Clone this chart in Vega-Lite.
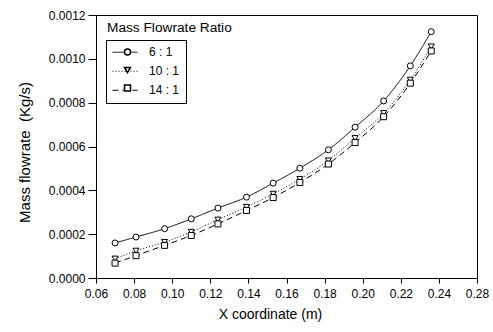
{
  "$schema": "https://vega.github.io/schema/vega-lite/v6.json",
  "width": 381,
  "height": 263,
  "autosize": {"type": "none"},
  "padding": {"left": 96, "top": 15, "right": 16, "bottom": 54},
  "background": "white",
  "config": {
    "font": "Liberation Sans",
    "view": {"stroke": "black", "strokeWidth": 1},
    "axis": {
      "grid": false,
      "domainColor": "black",
      "tickColor": "black",
      "labelColor": "black",
      "titleColor": "black",
      "labelFontSize": 12,
      "titleFontSize": 14,
      "titleFontWeight": "normal",
      "labelFlush": false,
      "labelOverlap": false
    }
  },
  "title": {
    "text": "Mass Flowrate Ratio",
    "anchor": "start",
    "frame": "group",
    "fontSize": 13.7,
    "fontWeight": "normal",
    "color": "black",
    "offset": 0,
    "dx": 11,
    "dy": 26
  },
  "data": {
    "values": [
      {"x": 0.070, "flow": 0.000160, "ratio": "6 : 1"},
      {"x": 0.081, "flow": 0.000187, "ratio": "6 : 1"},
      {"x": 0.096, "flow": 0.000225, "ratio": "6 : 1"},
      {"x": 0.110, "flow": 0.000270, "ratio": "6 : 1"},
      {"x": 0.124, "flow": 0.000319, "ratio": "6 : 1"},
      {"x": 0.139, "flow": 0.000369, "ratio": "6 : 1"},
      {"x": 0.153, "flow": 0.000433, "ratio": "6 : 1"},
      {"x": 0.167, "flow": 0.000501, "ratio": "6 : 1"},
      {"x": 0.182, "flow": 0.000585, "ratio": "6 : 1"},
      {"x": 0.196, "flow": 0.000688, "ratio": "6 : 1"},
      {"x": 0.211, "flow": 0.000808, "ratio": "6 : 1"},
      {"x": 0.225, "flow": 0.000968, "ratio": "6 : 1"},
      {"x": 0.236, "flow": 0.001124, "ratio": "6 : 1"},
      {"x": 0.070, "flow": 0.000088, "ratio": "10 : 1"},
      {"x": 0.081, "flow": 0.000124, "ratio": "10 : 1"},
      {"x": 0.096, "flow": 0.000164, "ratio": "10 : 1"},
      {"x": 0.110, "flow": 0.000210, "ratio": "10 : 1"},
      {"x": 0.124, "flow": 0.000266, "ratio": "10 : 1"},
      {"x": 0.139, "flow": 0.000324, "ratio": "10 : 1"},
      {"x": 0.153, "flow": 0.000384, "ratio": "10 : 1"},
      {"x": 0.167, "flow": 0.000451, "ratio": "10 : 1"},
      {"x": 0.182, "flow": 0.000536, "ratio": "10 : 1"},
      {"x": 0.196, "flow": 0.000638, "ratio": "10 : 1"},
      {"x": 0.211, "flow": 0.000752, "ratio": "10 : 1"},
      {"x": 0.225, "flow": 0.000904, "ratio": "10 : 1"},
      {"x": 0.236, "flow": 0.001056, "ratio": "10 : 1"},
      {"x": 0.070, "flow": 0.000068, "ratio": "14 : 1"},
      {"x": 0.081, "flow": 0.000102, "ratio": "14 : 1"},
      {"x": 0.096, "flow": 0.000149, "ratio": "14 : 1"},
      {"x": 0.110, "flow": 0.000194, "ratio": "14 : 1"},
      {"x": 0.124, "flow": 0.000247, "ratio": "14 : 1"},
      {"x": 0.139, "flow": 0.000308, "ratio": "14 : 1"},
      {"x": 0.153, "flow": 0.000367, "ratio": "14 : 1"},
      {"x": 0.167, "flow": 0.000436, "ratio": "14 : 1"},
      {"x": 0.182, "flow": 0.000520, "ratio": "14 : 1"},
      {"x": 0.196, "flow": 0.000618, "ratio": "14 : 1"},
      {"x": 0.211, "flow": 0.000736, "ratio": "14 : 1"},
      {"x": 0.225, "flow": 0.000889, "ratio": "14 : 1"},
      {"x": 0.236, "flow": 0.001036, "ratio": "14 : 1"}
    ]
  },
  "encoding": {
    "x": {
      "field": "x",
      "type": "quantitative",
      "scale": {"domain": [0.06, 0.26], "nice": false, "zero": false},
      "axis": {
        "title": "X coordinate (m)",
        "values": [0.06, 0.08, 0.10, 0.12, 0.14, 0.16, 0.18, 0.20, 0.22, 0.24, 0.26],
        "labelExpr": "datum.value > 0.255 ? '0.28' : format(datum.value, '.2f')",
        "tickSize": 5,
        "labelPadding": 5,
        "titlePadding": 8,
        "titleX": 174
      }
    },
    "y": {
      "field": "flow",
      "type": "quantitative",
      "scale": {"domain": [0, 0.0012], "nice": false},
      "axis": {
        "title": "Mass flowrate\u00a0 (Kg/s)",
        "values": [0, 0.0002, 0.0004, 0.0006, 0.0008, 0.0010, 0.0012],
        "format": ".4f",
        "tickSize": 8,
        "labelPadding": 3,
        "titleFontSize": 15,
        "titlePadding": 16,
        "titleY": 137
      }
    }
  },
  "layer": [
    {
      "mark": {"type": "line", "color": "black", "strokeWidth": 1, "interpolate": "monotone"},
      "encoding": {
        "strokeDash": {
          "field": "ratio",
          "type": "nominal",
          "scale": {"domain": ["6 : 1", "10 : 1", "14 : 1"], "range": [[1, 0], [1, 2], [6, 4]]},
          "legend": {
            "orient": "none",
            "legendX": 10,
            "legendY": 25,
            "title": null,
            "strokeColor": "black",
            "padding": 6,
            "symbolType": "stroke",
            "symbolSize": 625,
            "symbolStrokeColor": "black",
            "symbolStrokeWidth": 1,
            "labelFontSize": 12,
            "labelColor": "black",
            "labelOffset": 11,
            "clipHeight": 12.5,
            "rowPadding": 6,
            "labelExpr": "length(datum.label) < 6 ? '\u2007' + datum.label : datum.label"
          }
        }
      }
    },
    {
      "mark": {"type": "point", "filled": true, "fill": "white", "stroke": "black", "strokeWidth": 1, "size": 36, "opacity": 1},
      "encoding": {
        "shape": {
          "field": "ratio",
          "type": "nominal",
          "scale": {"domain": ["6 : 1", "10 : 1", "14 : 1"], "range": ["circle", "triangle-down", "square"]},
          "legend": {
            "orient": "top-left",
            "offset": 31,
            "title": null,
            "padding": 0,
            "symbolSize": 36,
            "symbolOffset": -5.5,
            "labelFontSize": 12,
            "labelExpr": "''",
            "rowPadding": 6,
            "encode": {
              "symbols": {
                "update": {
                  "fill": {"value": "white"},
                  "stroke": {"value": "black"},
                  "strokeWidth": {"value": 1},
                  "opacity": {"value": 1}
                }
              }
            }
          }
        }
      }
    }
  ]
}
